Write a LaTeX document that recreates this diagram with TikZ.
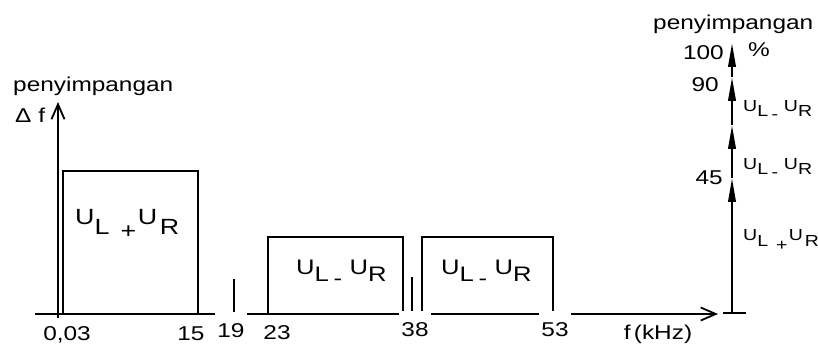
\documentclass[tikz,border=0pt]{standalone}
\usepackage{fontspec}
\setmainfont{Liberation Sans}[FakeStretch=1.22]
\usetikzlibrary{arrows.meta}
% U-label: #1 sign, #2 drop of subscripts, #3 drop of sign, #4 gap before sign, #5 gap after sign, #6 gap U-R
\newcommand{\ULab}[6]{U\raisebox{-#2}{L}\hspace{#4}\raisebox{-#3}{#1}\hspace{#5}U\hspace{#6}\raisebox{-#2}{R}}
\newcommand{\ULplus}[1]{\ULab{+}{#1}{0.6em}{0.5em}{0.08em}{0.12em}}
\newcommand{\ULminus}[1]{\ULab{-}{#1}{0.5em}{0.22em}{0.36em}{0em}}
\tikzset{
  ax/.style={line width=2.3pt},
  bx/.style={line width=2.1pt},
  openarrow/.style={-{Straight Barb[length=15pt,width=13pt,line width=1.8pt]}},
  tri/.style={-{Triangle[length=24pt,width=7.5pt]}},
  num/.style={font=\fontsize{20}{22}\selectfont, inner sep=0pt},
  gapnum/.style={num, fill=white, text height=25pt, text depth=0pt, inner xsep=2.5pt, anchor=base},
  boxlbl/.style={inner sep=0pt, anchor=base west},
}
\begin{document}
\begin{tikzpicture}[x=1pt,y=-1pt]
\useasboundingbox (0,0) rectangle (818,344);
% coordinates
\coordinate (xs) at (35,314);
\coordinate (xe) at (718,314);
\coordinate (ys) at (58,318);
\coordinate (ye) at (58,102);
% left axes
\draw[ax,openarrow] (xs) -- (xe);
\draw[ax,openarrow] (ys) -- (ye);
% boxes
\coordinate (b1a) at (63,314); \coordinate (b1b) at (198,171);
\coordinate (b2a) at (268,314); \coordinate (b2b) at (403,237);
\coordinate (b3a) at (422,314); \coordinate (b3b) at (553,237);
\draw[bx] (b1a) |- (b1b) -- (b1b |- b1a);
\draw[bx] (b2a) |- (b2b) -- (b2b |- b2a);
\draw[bx] (b3a) |- (b3b) -- (b3b |- b3a);
% pilot lines
\coordinate (p19a) at (234,314); \coordinate (p19b) at (234,279);
\coordinate (p38a) at (412,314); \coordinate (p38b) at (412,277);
\draw[bx] (p19a) -- (p19b);
\draw[bx] (p38a) -- (p38b);
% axis labels
\node[num, anchor=base] (l003) at (67,340) {0,03};
\node[num, anchor=base] (l15) at (191,340) {15};
\node[gapnum] (l19) at (231,337) {19};
\node[num, anchor=base] (l23) at (277,339) {23};
\node[gapnum] (l38) at (415,336) {38};
\node[gapnum] (l53) at (555,336) {53};
\node[num, anchor=base] (lf) at (658,339) {f\,(kHz)};
\node[num, anchor=base west] (lpl) at (13,92) {penyimpangan};
\node[num, anchor=base west] (ldf) at (15,123) {Δ f};
% box labels
\node[boxlbl, font=\fontsize{22}{24}\selectfont] (u1) at (75,225) {\ULplus{0.45em}};
\node[boxlbl, font=\fontsize{21}{24}\selectfont] (u2) at (296,275) {\ULminus{0.33em}};
\node[boxlbl, font=\fontsize{21}{24}\selectfont] (u3) at (441,275) {\ULminus{0.33em}};
% right axis
\coordinate (r0) at (732,313);
\coordinate (r45) at (732,178);
\coordinate (r90a) at (732,125);
\coordinate (r90) at (732,77);
\coordinate (r100) at (732,43);
\coordinate (cbl) at (723,313); \coordinate (cbr) at (746,313);
\draw[ax] (cbl) -- (cbr);
\draw[ax,tri] (r0) -- (r45);
\draw[ax,tri] (r45) -- (r90a);
\draw[ax,tri] (r90a) -- (r90);
\draw[ax,tri] (r90) -- (r100);
\node[num, anchor=base west] (rpl) at (653,30) {penyimpangan};
\node[num, anchor=base east] (n100) at (724,60) {100};
\node[num, anchor=base] (npc) at (759,57) {\%};
\node[num, anchor=base east] (n90) at (719,92) {90};
\node[num, anchor=base east] (n45) at (723,185) {45};
\node[boxlbl, font=\fontsize{16}{18}\selectfont] (ru1) at (743,112) {\ULminus{0.3em}};
\node[boxlbl, font=\fontsize{16}{18}\selectfont] (ru2) at (743,170) {\ULminus{0.3em}};
\node[boxlbl, font=\fontsize{16}{18}\selectfont] (ru3) at (743,241) {\ULplus{0.35em}};
\end{tikzpicture}
\end{document}
